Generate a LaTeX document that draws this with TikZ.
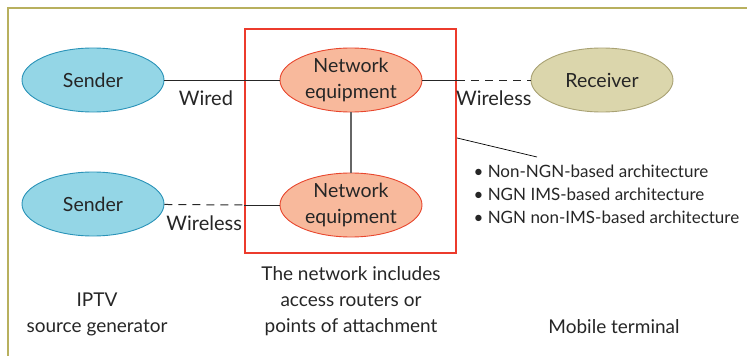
\documentclass[tikz,border=0pt]{standalone}
\usepackage{fontspec}
\setmainfont{Lato}
\usetikzlibrary{shapes.geometric}

\definecolor{senderfill}{HTML}{94D6E6}
\definecolor{senderdraw}{HTML}{2A93B8}
\definecolor{netfill}{HTML}{F8B99C}
\definecolor{netdraw}{HTML}{E8472E}
\definecolor{recvfill}{HTML}{DBD6AC}
\definecolor{recvdraw}{HTML}{A9A274}
\definecolor{framecol}{HTML}{B8B05E}
\definecolor{boxred}{HTML}{EC3B2C}

\begin{document}
\begin{tikzpicture}[
    x=1pt, y=-1pt,
    blob/.style={ellipse, draw, line width=0.9pt, minimum width=142pt, minimum height=64pt, inner sep=0pt, font=\fontsize{19.5}{26}\selectfont, align=center, text=black!85},
    sender/.style={blob, fill=senderfill, draw=senderdraw},
    neteq/.style={blob, fill=netfill, draw=netdraw},
    recv/.style={blob, fill=recvfill, draw=recvdraw},
    link/.style={line width=0.9pt, black!85},
    radio/.style={link, line width=1pt, dash pattern=on 8pt off 6pt},
    caption/.style={font=\fontsize{19}{26}\selectfont, align=center, text=black!85},
    label style/.style={font=\fontsize{20}{22}\selectfont, text=black!85}
]
    \useasboundingbox (0,0) rectangle (747,356);

    % --- frame ---
    \draw[framecol, line width=1.6pt] (8,356) -- (8,8) -- (747,8);

    % --- nodes ---
    \node[sender] (s1) at (93,80) {Sender};
    \node[sender] (s2) at (93,204) {Sender};
    \node[neteq] (n1) at (351,80) {Network\\equipment};
    \node[neteq] (n2) at (351,205) {Network\\equipment};
    \node[recv] (rx) at (602,80) {Receiver};

    % --- network box ---
    \node[draw=boxred, line width=2.2pt, minimum width=211pt, minimum height=224pt, inner sep=0pt] (net) at (350.5,141) {};
    \coordinate (e1) at (net.east |- n1);
    \coordinate (w2) at (net.west |- n2);

    % --- links ---
    \draw[link] (s1) -- node[label style, below=7pt, pos=0.36] {Wired} (n1);
    \draw[link] (n1) -- (e1);
    \draw[radio] (e1) -- node[label style, below=7pt, pos=0.5] {Wireless} (rx);
    \draw[radio] (s2) -- node[label style, below=7pt, pos=0.5] {Wireless} (w2);
    \draw[link] (w2) -- (n2);
    \draw[line width=1.6pt, black!60] (n1) -- (n2);

    % --- architectures ---
    \coordinate (tip) at (net.east |- 0,138);
    \node[label style, anchor=north west, align=left, font=\fontsize{17}{23}\selectfont] (arch) at (470,161)
        {\textbullet\ Non-NGN-based architecture\\
         \textbullet\ NGN IMS-based architecture\\
         \textbullet\ NGN non-IMS-based architecture};
    \coordinate (archtip) at (537,157);
    \draw[line width=0.7pt] (tip) -- (archtip);

    % --- captions ---
    \node[caption] (srcgen) at (97,314) {IPTV\\source generator};
    \node[caption] (netcap) at (351,301) {The network includes\\access routers or\\points of attachment};
    \node[caption] (mobile) at (614,327) {Mobile terminal};
\end{tikzpicture}
\end{document}
